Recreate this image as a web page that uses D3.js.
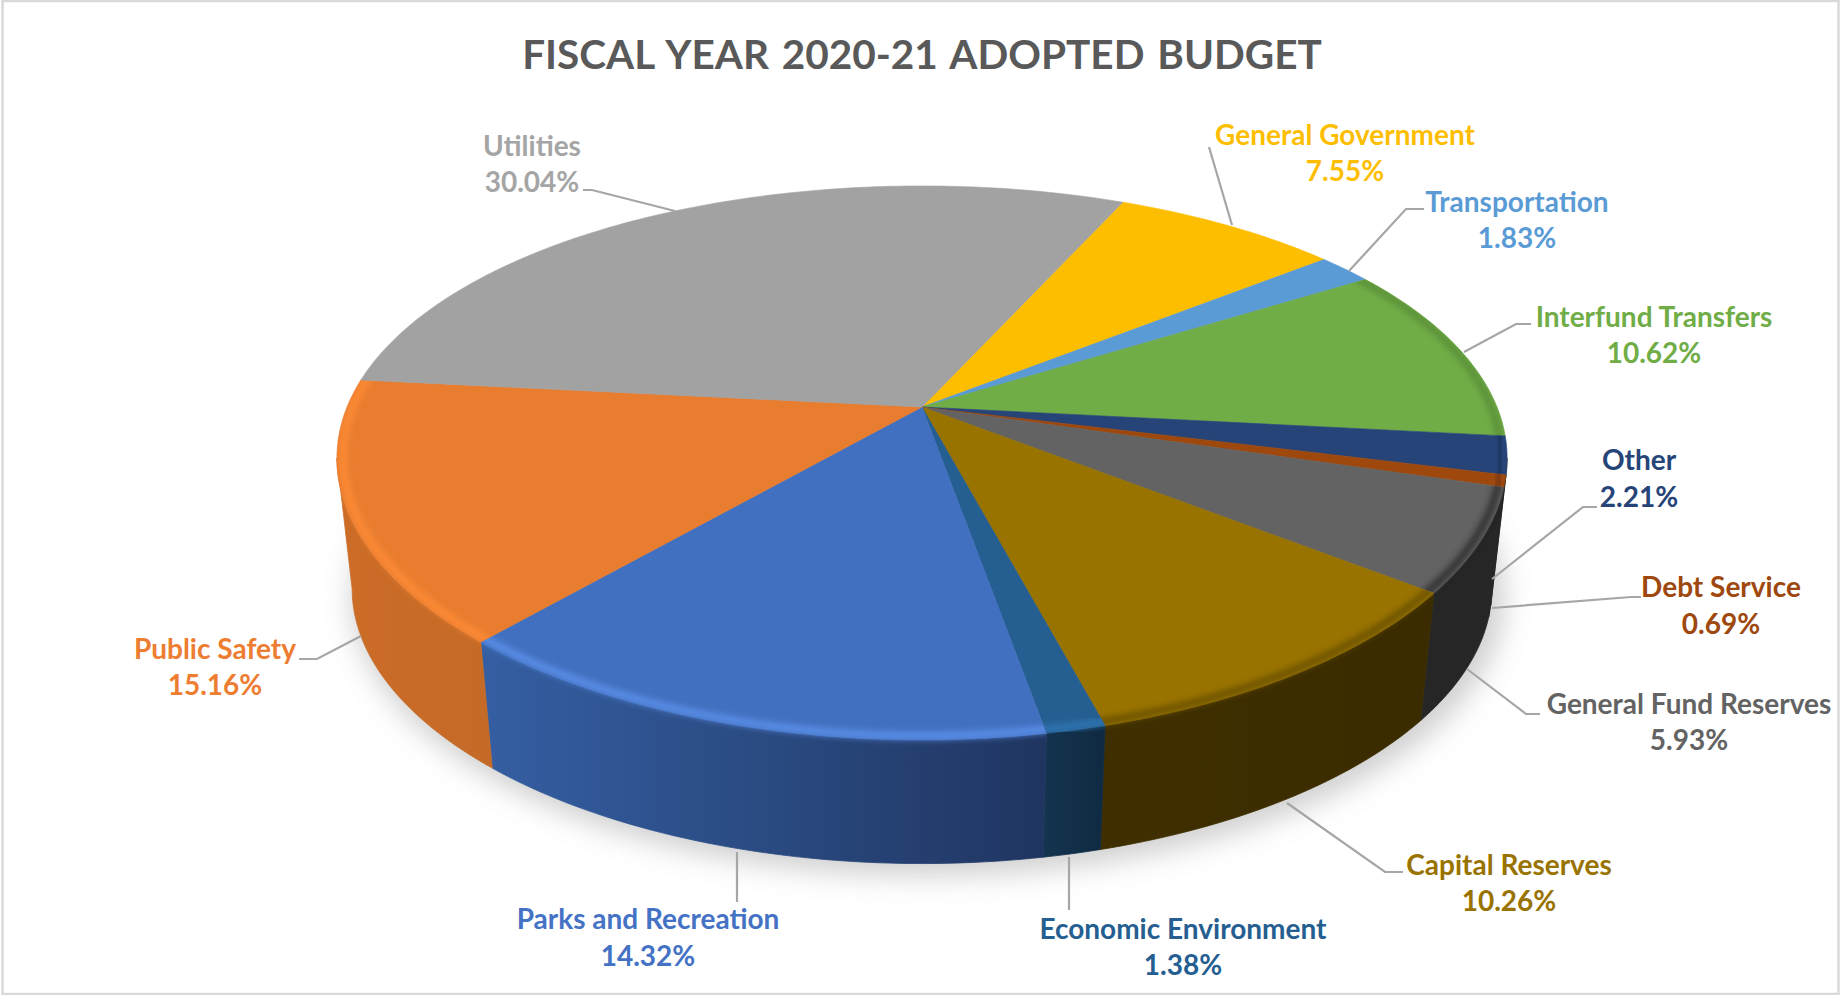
<!DOCTYPE html>
<html>
<head>
<meta charset="utf-8">
<title>Fiscal Year 2020-21 Adopted Budget</title>
<script src="https://cdn.jsdelivr.net/npm/d3@7"></script>
<style>
  html, body { margin: 0; padding: 0; background: #fff; }
  text { font-family: Lato, "Open Sans", sans-serif; font-weight: 700; }
</style>
</head>
<body>
<div id="chart"></div>
<script>
const TITLE = 'FISCAL YEAR 2020-21 ADOPTED BUDGET';

// data, clockwise from the first slice
const CATEGORIES = ['General Government', 'Transportation', 'Interfund Transfers', 'Other', 'Debt Service',
  'General Fund Reserves', 'Capital Reserves', 'Economic Environment', 'Parks and Recreation', 'Public Safety', 'Utilities'];
const VALUES = [7.55, 1.83, 10.62, 2.21, 0.69, 5.93, 10.26, 1.38, 14.32, 15.16, 30.04];

// styles, same order as the data
const TOP_COLORS = ['#fdbe00', '#5b9bd5', '#70ad47', '#264478', '#9e480e', '#636363', '#997300', '#255e91', '#4270c0', '#e87d30', '#a2a2a2'];
const LABEL_COLORS = ['#fdbe00', '#5b9bd5', '#70ad47', '#264478', '#9e480e', '#636363', '#997300', '#255e91', '#4472c4', '#ed7d31', '#a5a5a5'];
const RIM_LEFT = ['#8a6a00', '#3a6a96', '#4a7530', '#1a2f55', '#262626', '#262626', '#3f2f00', '#14344f', '#355fa3', '#cc6c27', '#707070'];
const RIM_RIGHT = ['#8a6a00', '#3a6a96', '#4a7530', '#262626', '#262626', '#262626', '#3a2b00', '#0f2a42', '#1f3560', '#c46a27', '#707070'];
const BEVEL_COLORS = [null, null, '#5a8f38', '#1d355e', '#7a370a', '#2e2e2e', '#6b5100', '#2f76b2', '#5c90ea', '#ff8b36', null];

// label centre x, first and second line baseline, leader polyline
const LABEL_LAYOUT = [
  { x: 1345, y: [145, 181], leader: [[1209, 147], [1232, 225]] },
  { x: 1517, y: [212, 248], leader: [[1424, 209], [1406, 209], [1349, 271]] },
  { x: 1654, y: [327, 363], leader: [[1531, 324], [1516, 324], [1464, 352]] },
  { x: 1639, y: [470, 507], leader: [[1597, 507], [1583, 507], [1492, 579]] },
  { x: 1721, y: [597, 634], leader: [[1641, 597], [1631, 597], [1492, 608]] },
  { x: 1689, y: [714, 750], leader: [[1540, 714], [1526, 714], [1467, 669]] },
  { x: 1509, y: [875, 911], leader: [[1403, 872], [1385, 872], [1287, 803]] },
  { x: 1183, y: [939, 975], leader: [[1069, 910], [1069, 857]] },
  { x: 648, y: [929, 966], leader: [[737, 902], [737, 852]] },
  { x: 215, y: [659, 695], leader: [[299, 659], [317, 659], [361, 636]] },
  { x: 532, y: [156, 192], leader: [[583, 190], [592, 190], [675, 211]] },
];

const WIDTH = 1841;
const HEIGHT = 995;
const START_ANGLE = 24.1 * Math.PI / 180;
const PERSPECTIVE_X = 0.185;
const PERSPECTIVE_Y = 0.202;
const TOP_DISC = { cx: 922, cy: 407, a: 575, b: 265.7 };
const BOTTOM_DISC = { cx: 922, cy: 539, a: 560, b: 259 };
// where the disc is widest, the rim is only seen between these two angles
const RIM_FROM = Math.acos(-PERSPECTIVE_X);
const RIM_TO = 2 * Math.PI - RIM_FROM;

// unit disc to screen, theta clockwise from north
function project(disc, theta, r = 1) {
  const u = r * Math.sin(theta);
  const v = -r * Math.cos(theta);
  return [
    disc.cx + disc.a * u / (1 - PERSPECTIVE_X * v),
    disc.cy + disc.b * v / (1 - PERSPECTIVE_Y * v),
  ];
}

function arcPoints(disc, a0, a1, r = 1) {
  const n = Math.max(2, Math.ceil((a1 - a0) / (Math.PI / 180)));
  return d3.range(n + 1).map((i) => project(disc, a0 + (a1 - a0) * i / n, r));
}

const line = d3.line();
const closed = (pts) => line(pts) + 'Z';

// visible rim of a slice, null when it is all behind the top face
function rimPoints(d) {
  const a0 = Math.max(d.startAngle, RIM_FROM);
  const a1 = Math.min(d.endAngle, RIM_TO);
  if (a1 <= a0) return null;
  return arcPoints(TOP_DISC, a0, a1).concat(arcPoints(BOTTOM_DISC, a0, a1).reverse());
}

const svg = d3.select('#chart').append('svg')
  .attr('width', WIDTH)
  .attr('height', HEIGHT)
  .style('display', 'block');

const defs = svg.append('defs');
defs.append('filter').attr('id', 'shadow-blur')
  .attr('x', '-10%').attr('y', '-20%').attr('width', '120%').attr('height', '140%')
  .append('feGaussianBlur').attr('stdDeviation', 14);
defs.append('filter').attr('id', 'bevel-blur')
  .attr('x', '-10%').attr('y', '-10%').attr('width', '120%').attr('height', '120%')
  .append('feGaussianBlur').attr('stdDeviation', 3);

// chart border
svg.append('rect')
  .attr('x', 2.5).attr('y', 1)
  .attr('width', 1836).attr('height', 993)
  .attr('fill', '#fff')
  .attr('stroke', '#d9d9d9')
  .attr('stroke-width', 2.5);

svg.append('text')
  .attr('x', 922).attr('y', 69)
  .attr('text-anchor', 'middle')
  .attr('font-size', 40.5)
  .attr('word-spacing', 3)
  .attr('fill', '#595959')
  .text(TITLE);

const pie = d3.pie().sort(null)
  .startAngle(START_ANGLE)
  .endAngle(START_ANGLE + 2 * Math.PI);
const slices = pie(VALUES).map((d, i) => ({ ...d, i }));

// shadow under the pie
svg.append('path')
  .attr('d', closed(arcPoints({ ...BOTTOM_DISC, cx: 928, cy: 547, a: 566, b: 262 }, 0, 2 * Math.PI)))
  .attr('fill', '#8c8c8c')
  .attr('opacity', 0.42)
  .attr('filter', 'url(#shadow-blur)');

// rim
const rim = svg.append('g');
slices.forEach((d) => {
  const pts = rimPoints(d);
  if (!pts) return;
  const xs = pts.map((p) => p[0]);
  const grad = defs.append('linearGradient')
    .attr('id', `rim-${d.i}`)
    .attr('gradientUnits', 'userSpaceOnUse')
    .attr('x1', d3.min(xs)).attr('x2', d3.max(xs))
    .attr('y1', 0).attr('y2', 0);
  grad.append('stop').attr('offset', 0).attr('stop-color', RIM_LEFT[d.i]);
  grad.append('stop').attr('offset', 1).attr('stop-color', RIM_RIGHT[d.i]);
  rim.append('path')
    .attr('d', closed(pts))
    .attr('fill', `url(#rim-${d.i})`)
    .attr('stroke', `url(#rim-${d.i})`)
    .attr('stroke-width', 0.8);
});

// top face
const face = svg.append('g');
slices.forEach((d) => {
  const pts = [[TOP_DISC.cx, TOP_DISC.cy]].concat(arcPoints(TOP_DISC, d.startAngle, d.endAngle));
  const outline = closed(pts);
  face.append('path')
    .attr('d', outline)
    .attr('fill', TOP_COLORS[d.i])
    .attr('stroke', TOP_COLORS[d.i])
    .attr('stroke-width', 0.6);
  if (BEVEL_COLORS[d.i]) {
    // soft edge, allowed to run over this slice's own rim
    const clip = defs.append('clipPath').attr('id', `face-${d.i}`);
    clip.append('path').attr('d', outline);
    const rimPts = rimPoints(d);
    if (rimPts) clip.append('path').attr('d', closed(rimPts));
    face.append('g')
      .attr('clip-path', `url(#face-${d.i})`)
      .append('path')
      .attr('d', line(arcPoints(TOP_DISC, d.startAngle - 0.02, d.endAngle + 0.02, 0.99)))
      .attr('fill', 'none')
      .attr('stroke', BEVEL_COLORS[d.i])
      .attr('stroke-width', 7)
      .attr('filter', 'url(#bevel-blur)');
  }
});

// leader lines
svg.append('g').selectAll('path')
  .data(LABEL_LAYOUT)
  .join('path')
  .attr('d', (d) => line(d.leader))
  .attr('fill', 'none')
  .attr('stroke', '#a6a6a6')
  .attr('stroke-width', 2.2);

// labels
const labels = svg.append('g').selectAll('text')
  .data(CATEGORIES)
  .join('text')
  .attr('text-anchor', 'middle')
  .attr('font-size', 28)
  .attr('fill', (d, i) => LABEL_COLORS[i]);
labels.append('tspan')
  .attr('x', (d, i) => LABEL_LAYOUT[i].x)
  .attr('y', (d, i) => LABEL_LAYOUT[i].y[0])
  .text((d) => d);
labels.append('tspan')
  .attr('x', (d, i) => LABEL_LAYOUT[i].x)
  .attr('y', (d, i) => LABEL_LAYOUT[i].y[1])
  .text((d, i) => `${VALUES[i].toFixed(2)}%`);
</script>
</body>
</html>
